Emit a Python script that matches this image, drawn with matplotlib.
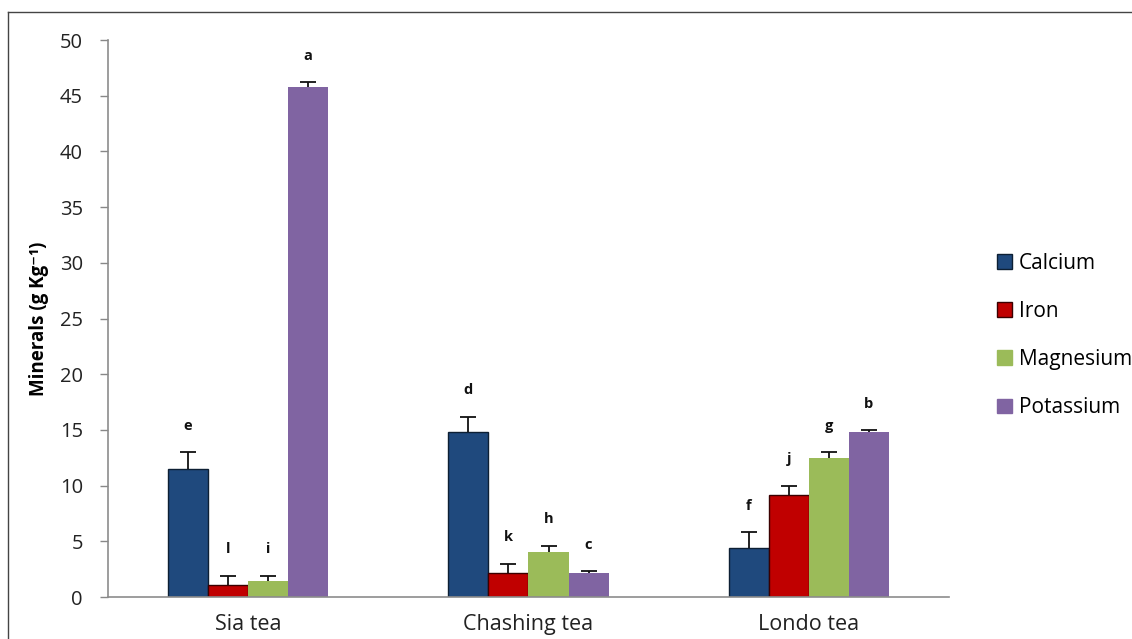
import matplotlib
matplotlib.use("Agg")
import matplotlib.pyplot as plt
from matplotlib.lines import Line2D
import numpy as np

plt.rcParams['font.family'] = ['Open Sans', 'DejaVu Sans']

teas = ["Sia tea", "Chashing tea", "Londo tea"]
minerals = ["Calcium", "Iron", "Magnesium", "Potassium"]

calcium = [11.5, 14.8, 4.4]
iron = [1.1, 2.2, 9.2]
magnesium = [1.4, 4.0, 12.5]
potassium = [45.8, 2.2, 14.8]

calcium_err = [1.5, 1.4, 1.4]
iron_err = [0.8, 0.8, 0.8]
magnesium_err = [0.5, 0.6, 0.5]
potassium_err = [0.4, 0.1, 0.15]

calcium_sig = ["e", "d", "f"]
iron_sig = ["l", "k", "j"]
magnesium_sig = ["i", "h", "g"]
potassium_sig = ["a", "c", "b"]

series = [
    (calcium, calcium_err, calcium_sig, "#1F497D", "#0d1f33"),
    (iron, iron_err, iron_sig, "#C00000", "#3a0000"),
    (magnesium, magnesium_err, magnesium_sig, "#9BBB59", "none"),
    (potassium, potassium_err, potassium_sig, "#8064A2", "none"),
]

fig = plt.figure(figsize=(11.32, 6.39), dpi=100)
ax = fig.add_axes([0.0954, 0.0657, 0.7429, 0.8717])

x = np.arange(len(teas))
width = 0.143
offsets = (np.arange(len(minerals)) - 1.5) * width

for (vals, errs, sig, color, edge), off, name in zip(series, offsets, minerals):
    vals = np.array(vals)
    errs = np.array(errs)
    ax.bar(x + off, vals, width, color=color, edgecolor=edge,
           linewidth=1.0 if edge != "none" else 0, label=name, zorder=2)
    eb = ax.errorbar(x + off, vals, yerr=[np.zeros_like(errs), errs], fmt="none",
                     ecolor="#111111", elinewidth=1.3, capsize=6, capthick=1.3,
                     zorder=3)
    # upper error only: hide the cap sitting on the bar top
    eb[1][0].set_visible(False)
    for xi, v, e, s in zip(x + off, vals, errs, sig):
        ax.annotate(s, (xi, v + e), xytext=(0, 14), textcoords="offset points",
                    ha="center", va="bottom", fontsize=10.5, fontweight="bold",
                    color="#111111")

ax.set_xlim(-0.5, 2.5)
ax.set_ylim(0, 50)
ax.set_yticks(np.arange(0, 51, 5))
ax.set_xticks(x)
ax.set_xticklabels(teas, fontsize=15.5, color="#222222")
ax.tick_params(axis="x", length=0, pad=12)
ax.tick_params(axis="y", labelsize=14.5, labelcolor="#222222", color="#888888",
               length=6, width=1, pad=12)
for s in ("top", "right"):
    ax.spines[s].set_visible(False)
for s in ("left", "bottom"):
    ax.spines[s].set_color("#8c8c8c")
    ax.spines[s].set_linewidth(1.2)

ax.set_ylabel("Minerals (g Kg\u207b\u00b9)", fontsize=13.5, fontweight="bold",
              labelpad=8)

handles = [plt.Rectangle((0, 0), 1, 1, facecolor=c, edgecolor=(e if e != "none" else c))
           for (_, _, _, c, e) in series]
fig.legend(handles, minerals, loc="center left", bbox_to_anchor=(0.8735, 0.475),
           frameon=False, fontsize=15, handlelength=0.7, handleheight=0.7,
           handletextpad=0.35, labelspacing=1.3, borderaxespad=0)

# Outer frame around the figure panel
fig.add_artist(Line2D([8 / 1132, 8 / 1132], [0, 1 - 12 / 639],
                      transform=fig.transFigure, color="#444444", linewidth=1))
fig.add_artist(Line2D([8 / 1132, 1], [1 - 12 / 639, 1 - 12 / 639],
                      transform=fig.transFigure, color="#444444", linewidth=1))

fig.savefig("out.png", dpi=100)
